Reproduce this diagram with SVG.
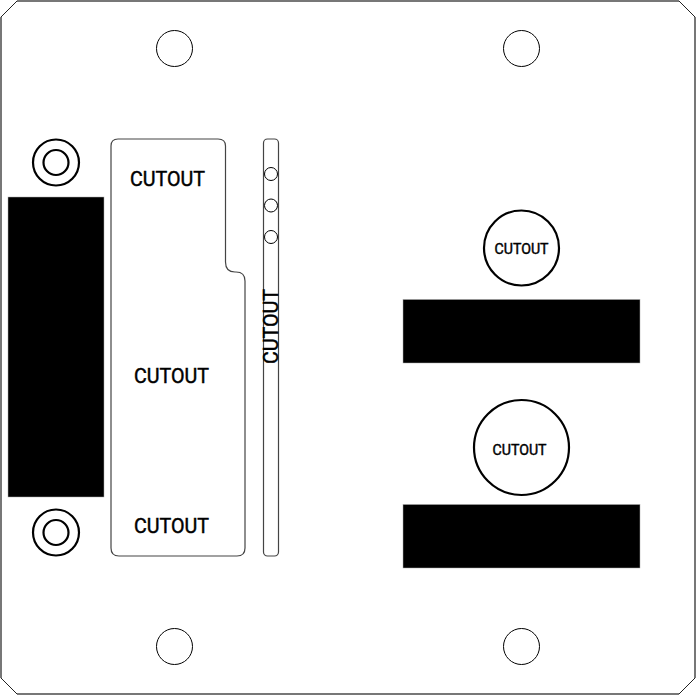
<svg xmlns="http://www.w3.org/2000/svg" width="698" height="698" viewBox="0 0 698 698">
<style>
.l{fill:none;stroke:#000;stroke-width:1}
.g{fill:none;stroke:#444;stroke-width:1.2}
.r{fill:none;stroke:#000;stroke-width:2.2}
.e{fill:none;stroke:#777;stroke-width:2}
.b{fill:#000;stroke:#aaa;stroke-width:.5}
.t{font-family:"Liberation Sans Narrow","Roboto","Liberation Sans",sans-serif;fill:#000;stroke:#000;stroke-width:.45;text-anchor:start}
</style>
<rect width="698" height="698" fill="#fff"/>
<g id="plate">
<path d="M1 17L17 1H679L695 17V678L679 694H17L1 678Z" fill="#fff" stroke="#222" stroke-width="1"/>
<path class="e" d="M17 1H679M695 17V678M679 694H17M1 678V17"/>
</g>
<g id="mounting-holes">
<circle class="l" cx="174.500" cy="48.500" r="18"/>
<circle class="l" cx="521.500" cy="48.500" r="18"/>
<circle class="l" cx="174.500" cy="646.500" r="18"/>
<circle class="l" cx="521.500" cy="646.500" r="18"/>
</g>
<g id="left-connector">
<circle class="r" cx="56" cy="162.500" r="23"/>
<circle class="r" cx="56" cy="162.500" r="12.500"/>
<circle class="r" cx="56" cy="532.500" r="23"/>
<circle class="r" cx="56" cy="532.500" r="12.500"/>
<rect class="b" x="8" y="197" width="96" height="300"/>
</g>
<g id="main-cutout">
<path class="g" d="M118 139H218Q225.500 139 225.500 146V262Q225.500 272 235 272H236Q245 272 245 281V548Q245 556 237 556H119Q111 556 111 548V146Q111 139 118 139Z"/>
<text class="t" x="130" y="186" font-size="21" textLength="75" lengthAdjust="spacingAndGlyphs">CUTOUT</text>
<text class="t" x="134" y="383" font-size="21" textLength="75" lengthAdjust="spacingAndGlyphs">CUTOUT</text>
<text class="t" x="134" y="533" font-size="21" textLength="75" lengthAdjust="spacingAndGlyphs">CUTOUT</text>
</g>
<g id="strip-cutout">
<rect class="g" x="263.500" y="139" width="15" height="417" rx="4"/>
<circle class="l" cx="271" cy="174" r="6.500"/>
<circle class="l" cx="271" cy="205.500" r="6.500"/>
<circle class="l" cx="271" cy="237" r="6.500"/>
<text class="t" transform="translate(278 364) rotate(-90)" font-size="21" textLength="75" lengthAdjust="spacingAndGlyphs">CUTOUT</text>
</g>
<g id="right-upper">
<circle class="r" cx="521.500" cy="248" r="37.500"/>
<text class="t" x="494.500" y="254" font-size="15" textLength="54" lengthAdjust="spacingAndGlyphs">CUTOUT</text>
<rect class="b" x="403" y="299.500" width="237" height="63.500"/>
</g>
<g id="right-lower">
<circle class="r" cx="521.500" cy="447.500" r="47.500"/>
<text class="t" x="492.500" y="455" font-size="15" textLength="54" lengthAdjust="spacingAndGlyphs">CUTOUT</text>
<rect class="b" x="403" y="504.500" width="237" height="63.500"/>
</g>
</svg>
